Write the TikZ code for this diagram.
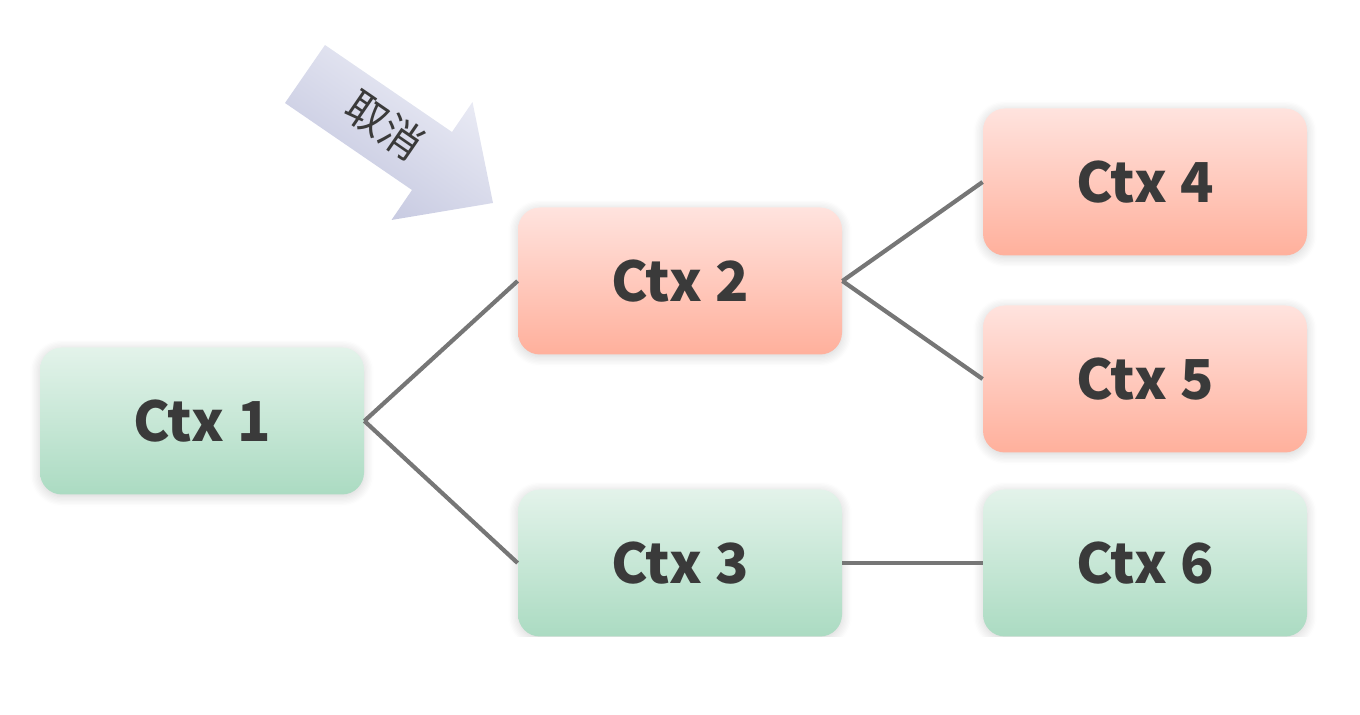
\documentclass[tikz,border=0pt]{standalone}
\usepackage{fontspec}
\newfontfamily\cjk{Noto Sans CJK SC}
\usepackage{tikz}
\usetikzlibrary{positioning,shadows.blur}
\definecolor{greentop}{HTML}{E3F3EA}
\definecolor{greenbot}{HTML}{ABDBC2}
\definecolor{redtop}{HTML}{FFE3DE}
\definecolor{redbot}{HTML}{FFB09C}
\definecolor{arrowtop}{HTML}{EEEFF7}
\definecolor{arrowbot}{HTML}{C2C5DE}
\definecolor{txt}{HTML}{3A3A3A}
\definecolor{edge}{HTML}{767676}
\tikzstyle{ctx}=[rectangle, rounded corners=11pt, minimum width=162pt, minimum height=73.5pt, inner sep=0pt, text=txt, font=\cjk\bfseries\fontsize{27.5pt}{27.5pt}\selectfont, blur shadow={shadow xshift=0pt, shadow yshift=-1pt, shadow blur radius=5pt, shadow blur steps=8, shadow opacity=18}]
\tikzstyle{live}=[ctx, top color=greentop, bottom color=greenbot]
\tikzstyle{dead}=[ctx, top color=redtop, bottom color=redbot]
\tikzstyle{link}=[draw=edge, line width=2.1pt]

\begin{document}
\begin{tikzpicture}[x=0.5pt, y=-0.5pt]
				\useasboundingbox(0,0)rectangle(1360,715);
				\begin{scope}
				\clip(0,0)rectangle(1360,637);
				\node[live](c1)at(202,421){Ctx 1};
				\node[dead](c2)at(680,281){Ctx 2};
				\node[live](c3)at(680,563){Ctx 3};
				\node[dead](c4)at(1145,182){Ctx 4};
				\node[dead](c5)at(1145,379){Ctx 5};
				\node[live](c6)at(1145,563){Ctx 6};
				\draw[link](c1.east)--(c2.west);
				\draw[link](c1.east)--(c3.west);
				\draw[link](c2.east)--(c4.west);
				\draw[link](c2.east)--(c5.west);
				\draw[link](c3.east)--(c6.west);
				% cancel arrow
				\shade[top color=arrowtop, bottom color=arrowbot, shading angle=-35]
					(325,45)--(452,132)--(472.5,102)--(493,203)--(391.5,220)--(412,190)--(285,103)--cycle;
				\node(cancel)[rotate=-34.5, inner sep=0pt, text=txt, font=\cjk\fontsize{21pt}{21pt}\selectfont]at(385,125){取消};
				\end{scope}
			\end{tikzpicture}
\end{document}
